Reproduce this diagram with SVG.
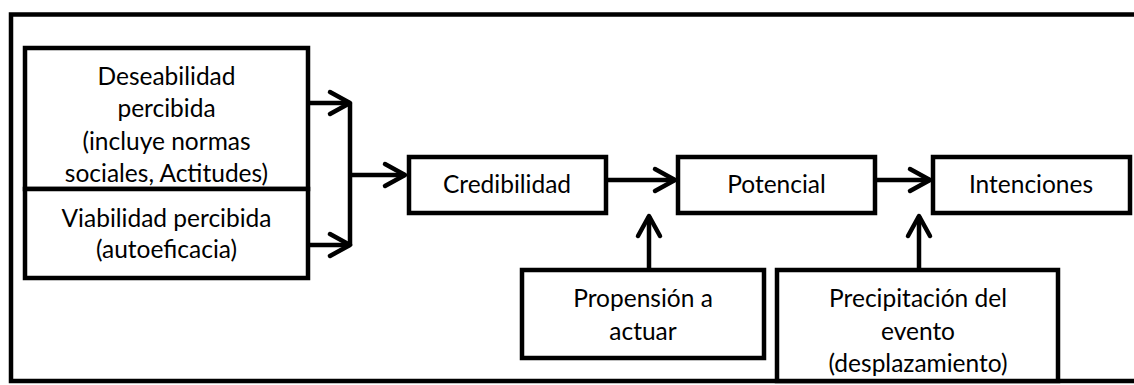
<svg xmlns="http://www.w3.org/2000/svg" width="1134" height="385" viewBox="0 0 1134 385">
<style>
.box{fill:#fff;stroke:#000;stroke-width:4.5}
.frame{fill:none;stroke:#000;stroke-width:4.5}
.con{fill:none;stroke:#000;stroke-width:4.5}
text{font-family:"Lato","Liberation Sans",sans-serif;font-size:24.5px;fill:#000;text-anchor:middle}
</style>
<defs>
<marker id="arr" markerUnits="userSpaceOnUse" markerWidth="30" markerHeight="30" viewBox="-26 -15 30 30" refX="0" refY="0" orient="auto">
<path d="M-20,-11 L0,0 L-20,11" fill="none" stroke="#000" stroke-width="4.5" stroke-linecap="round" stroke-linejoin="round"/>
</marker>
</defs>
<rect x="0" y="0" width="1134" height="385" fill="#fff"/>
<path class="frame" d="M1140,14.5 H11 V381 H1140"/>
<g id="deseabilidad">
<rect class="box" x="25" y="48" width="283" height="141"/>
<text x="166.5" y="85">Deseabilidad</text>
<text x="166.5" y="117">percibida</text>
<text x="166.5" y="150">(incluye normas</text>
<text x="166.5" y="182">sociales, Actitudes)</text>
</g>
<g id="viabilidad">
<rect class="box" x="25" y="189" width="283" height="89"/>
<text x="166.5" y="227">Viabilidad percibida</text>
<text x="166.5" y="258">(autoeficacia)</text>
</g>
<g id="credibilidad">
<rect class="box" x="409" y="157" width="197" height="56"/>
<text x="507" y="193">Credibilidad</text>
</g>
<g id="potencial">
<rect class="box" x="678" y="157" width="197" height="56"/>
<text x="776.5" y="193">Potencial</text>
</g>
<g id="intenciones">
<rect class="box" x="933" y="157" width="197" height="56"/>
<text x="1031" y="193">Intenciones</text>
</g>
<g id="propension">
<rect class="box" x="522" y="270" width="242" height="88"/>
<text x="643" y="307">Propensión a</text>
<text x="643" y="340">actuar</text>
</g>
<g id="precipitacion">
<rect class="box" x="777" y="270" width="281" height="111"/>
<text x="918" y="307">Precipitación del</text>
<text x="918" y="340">evento</text>
<text x="918" y="372">(desplazamiento)</text>
</g>
<g id="connectors">
<path class="con" d="M308,103 H350" marker-end="url(#arr)"/>
<path class="con" d="M308,245 H350" marker-end="url(#arr)"/>
<path class="con" d="M350,103 V246"/>
<path class="con" d="M350,175 H405" marker-end="url(#arr)"/>
<path class="con" d="M606,180 H675" marker-end="url(#arr)"/>
<path class="con" d="M649,270 V216" marker-end="url(#arr)"/>
<path class="con" d="M875,180 H930" marker-end="url(#arr)"/>
<path class="con" d="M919,270 V216" marker-end="url(#arr)"/>
</g>
</svg>
